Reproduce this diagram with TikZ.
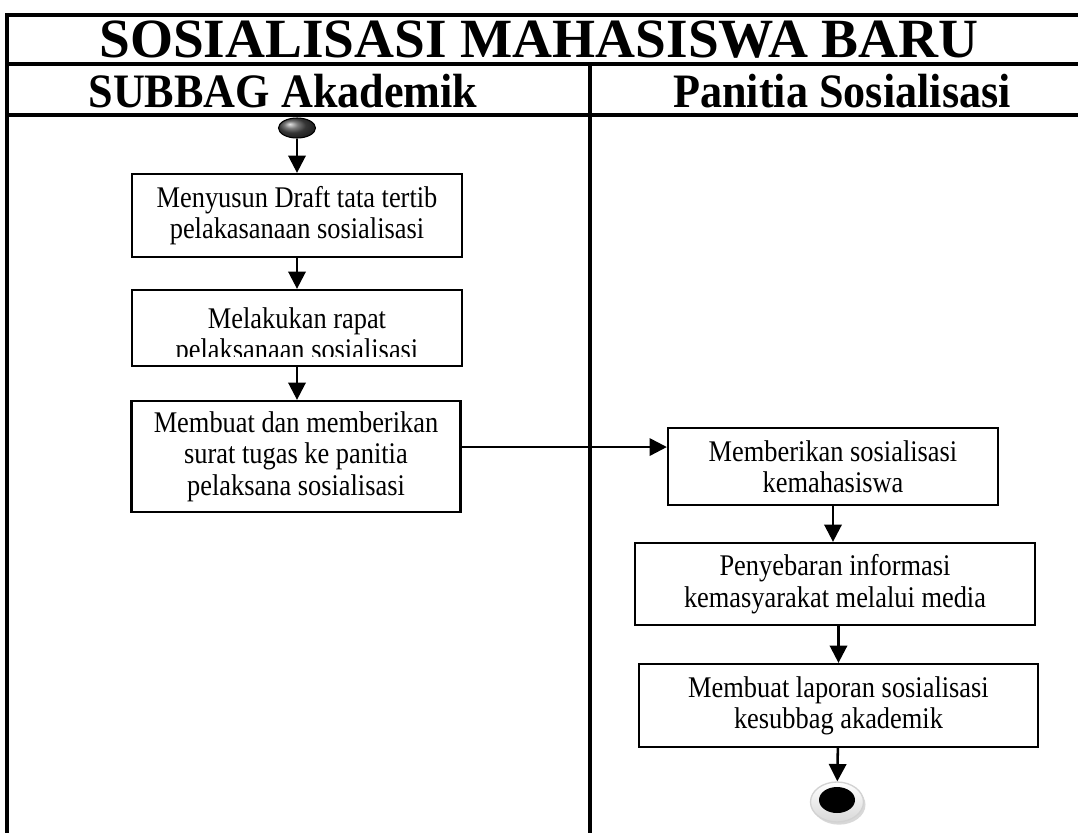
\documentclass[tikz,border=0pt]{standalone}
\usepackage{fontspec}
\setmainfont{Liberation Serif}
\newfontfamily\boxfont{Liberation Serif}[FakeStretch=0.88]
\newfontfamily\lanefont{Liberation Serif}[FakeStretch=0.92]
\usetikzlibrary{arrows.meta, shapes.geometric, shadows}

\tikzset{
  activity/.style={draw, line width=1.7pt, align=center, inner sep=0pt,
    font=\boxfont\fontsize{22.5}{23.5}\selectfont},
  flow/.style={line width=1.9pt, -{Triangle[width=13pt,length=13pt]}},
  lane/.style={font=\lanefont\bfseries\fontsize{36}{40}\selectfont},
  frame/.style={line width=2.4pt},
}

\begin{document}
\begin{tikzpicture}[x=0.75pt, y=-0.75pt]
  \useasboundingbox (0,0) rectangle (1078,833);

  % Swimlane frame
  \draw[frame] (1078,15) -- (7,15) -- (7,833);
  \draw[frame] (7,64) -- (1078,64);
  \draw[frame] (7,115) -- (1078,115);
  \draw[frame] (590,64) -- (590,833);

  % Headers
  \node[font=\bfseries\fontsize{41.5}{45}\selectfont] (title) at (539,40) {SOSIALISASI MAHASISWA BARU};
  \node[lane] (akademik) at (283,91) {SUBBAG Akademik};
  \node[lane] (panitia) at (842,91) {Panitia Sosialisasi};

  % Start and end
  \node[ellipse, draw, line width=0.8pt, ball color=gray!60!black, inner sep=0pt,
    minimum width=27.75pt, minimum height=15pt] (start) at (297,128) {};
  \node[ellipse, draw=gray!35, line width=1pt, top color=white, bottom color=gray!30,
    drop shadow={shadow xshift=1.5pt, shadow yshift=-2pt, fill=gray!60},
    inner sep=0pt, minimum width=39.75pt, minimum height=30pt] (endring) at (837,802) {};
  \node[ellipse, fill=black, inner sep=0pt, minimum width=27pt, minimum height=19.5pt]
    (enddot) at (837,800) {};

  % SUBBAG Akademik lane
  \node[activity, minimum width=247.5pt, minimum height=62.25pt] (draft) at (297,215.5)
    {Menyusun Draft tata tertib\\pelakasanaan sosialisasi};
  \node[activity, minimum width=247.5pt, minimum height=57pt] (rapat) at (297,328) {};
  \begin{scope}
    \clip (rapat.north west) rectangle ([yshift=8pt]rapat.south east);
    \node[activity, draw=none] (rapattext) at ([yshift=-6.4pt]rapat.center)
      {Melakukan rapat\\pelaksanaan sosialisasi};
  \end{scope}
  \node[activity, minimum width=246.75pt, minimum height=83.25pt] (surat) at (296,456.5)
    {Membuat dan memberikan\\surat tugas ke panitia\\pelaksana sosialisasi};

  % Panitia Sosialisasi lane
  \node[activity, minimum width=247.5pt, minimum height=57.75pt] (sosialisasi) at (833,466.5)
    {Memberikan sosialisasi\\kemahasiswa};
  \node[activity, minimum width=300pt, minimum height=61.5pt] (media) at (835,584)
    {Penyebaran informasi\\kemasyarakat melalui media};
  \node[activity, minimum width=299.25pt, minimum height=62.25pt] (laporan) at (838.5,705.5)
    {Membuat laporan sosialisasi\\kesubbag akademik};

  % Flow
  \draw[flow] (start) -- (draft);
  \draw[flow] (draft.south -| start) -- (rapat);
  \draw[flow] (rapat.south) -- (rapat.south |- surat.north);
  \draw[flow] ([yshift=7.1pt]surat.east) -- ([yshift=7.1pt]surat.east -| sosialisasi.west);
  \draw[flow] (sosialisasi.south) -- (sosialisasi.south |- media.north);
  \draw[flow] (media.south -| laporan) -- (laporan.north);
  \draw[flow] (laporan) -- (endring);
\end{tikzpicture}
\end{document}
